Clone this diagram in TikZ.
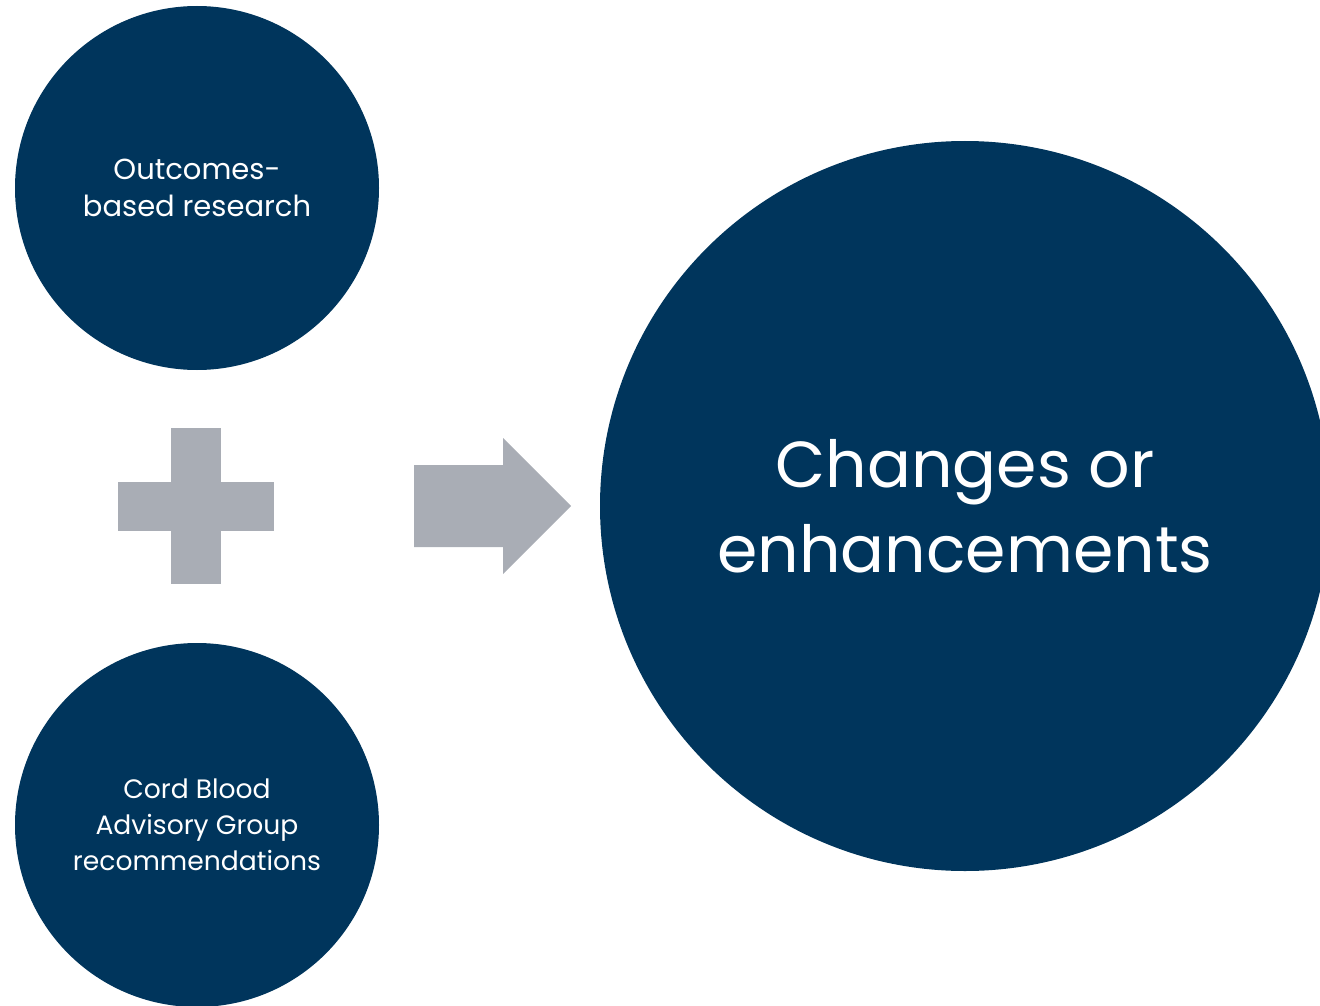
\documentclass[tikz,border=0pt]{standalone}
\usepackage{fontspec}
\setmainfont{Poppins}
\definecolor{navy}{HTML}{00355C}
\definecolor{signgray}{HTML}{A9ADB5}

\begin{document}
\begin{tikzpicture}[x=1pt,y=-1pt,
	bubble/.style={circle, fill=navy, text=white, align=center, inner sep=0pt},
	small/.style={font=\fontsize{29}{37}\selectfont},
	sign/.style={fill=signgray, draw=none}]
	\useasboundingbox (0,0) rectangle (1320,1006);
	\clip (0,0) rectangle (1320,1006);
	% inputs
	\node[bubble, small, minimum size=364pt] (OR) at (197,188) {Outcomes-\\based research};
	\node[bubble, minimum size=364pt, font=\fontsize{26.6}{36}\selectfont] (CB) at (197,825) {Cord Blood\\Advisory Group\\recommendations};
	% result
	\node[bubble, minimum size=730pt, font=\fontsize{65}{85}\selectfont] (CE) at (965,506) {Changes or\\enhancements};
	% plus and arrow
	\fill[sign] (171,428) rectangle (221,584);
	\fill[sign] (118,482) rectangle (274,531);
	\fill[sign] (414,465) -- (503,465) -- (503,438) -- (571,506) -- (503,574) -- (503,547) -- (414,547) -- cycle;
\end{tikzpicture}
\end{document}
